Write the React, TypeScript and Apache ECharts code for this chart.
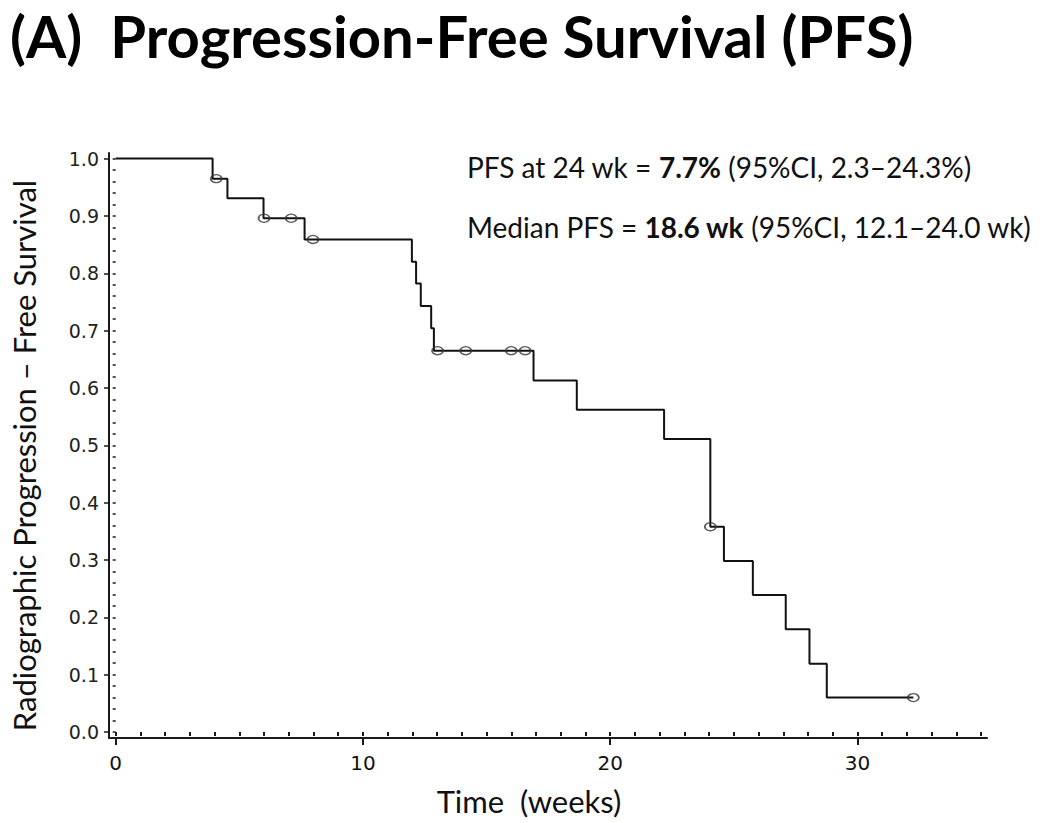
import React, { useEffect, useRef } from "react";
import * as echarts from "echarts";

// Kaplan–Meier step curve: time (weeks) at which each level begins, and the level
const eventTimes = [0, 3.92, 4.52, 5.98, 7.64, 11.98, 12.15, 12.34, 12.76, 12.87, 16.9, 18.65, 22.18, 24.05, 24.6, 25.77, 27.1, 28.06, 28.76, 32.26];
const survival = [1.0, 0.965, 0.931, 0.896, 0.859, 0.82, 0.782, 0.743, 0.704, 0.665, 0.613, 0.562, 0.511, 0.358, 0.298, 0.239, 0.179, 0.119, 0.06, 0.06];

// Censored observations
const censorTimes = [4.07, 6.0, 7.1, 7.98, 13.02, 14.16, 16.0, 16.56, 24.05, 32.26];
const censorSurv = [0.965, 0.896, 0.896, 0.859, 0.665, 0.665, 0.665, 0.665, 0.358, 0.06];

// Axis ticks
const xMajorTicks = [0, 10, 20, 30];
const xMinorTicks = [0, 1, 2, 3, 4, 5, 6, 7, 8, 9, 10, 11, 12, 13, 14, 15, 16, 17, 18, 19, 20, 21, 22, 23, 24, 25, 26, 27, 28, 29, 30, 31, 32, 33, 34, 35];
const yMajorTicks = [0, 0.1, 0.2, 0.3, 0.4, 0.5, 0.6, 0.7, 0.8, 0.9, 1.0];
const yMinorTicks = Array.from({ length: 51 }, (_, i) => Math.round(i * 2) / 100);

const titleText = "(A)  Progression-Free Survival (PFS)";
const xTitle = "Time  (weeks)";
const yTitle = "Radiographic Progression – Free Survival";
const note1 = "PFS at 24 wk = {b|7.7%} (95%CI, 2.3–24.3%)";
const note2 = "Median PFS = {b|18.6 wk} (95%CI, 12.1–24.0 wk)";

const X_MIN = -0.27;
const X_MAX = 35.24;
const Y_MIN = -0.0105;
const Y_MAX = 1.0098;

export default function App() {
  const ref = useRef<HTMLDivElement>(null);
  useEffect(() => {
    if (!ref.current) return;
    const chart = echarts.init(ref.current, null, { renderer: "svg" });
    const axisColor = "#1a1a1a";
    const textFont = "Lato";
    const noteStyle = {
      fontFamily: textFont,
      fontWeight: "normal",
      fontSize: 28,
      color: "#111",
      rich: { b: { fontFamily: textFont, fontWeight: "bold", fontSize: 28, color: "#111" } },
    };
    chart.setOption({
      animation: false,
      backgroundColor: "#ffffff",
      title: [
        {
          text: titleText,
          left: 10,
          top: 6,
          padding: 0,
          textStyle: { fontFamily: textFont, fontWeight: "bold", fontSize: 58, color: "#000" },
        },
        { text: note1, left: 462, top: 148, textStyle: noteStyle },
        { text: note2, left: 462, top: 208, textStyle: noteStyle },
      ],
      grid: { left: 109, right: 63, top: 153, bottom: 85, containLabel: false },
      xAxis: [
        {
          type: "value",
          min: X_MIN,
          max: X_MAX,
          position: "bottom",
          splitLine: { show: false },
          axisLine: { show: true, onZero: false, lineStyle: { color: axisColor, width: 2 } },
          axisTick: { show: true, customValues: xMajorTicks, length: 7, lineStyle: { color: axisColor, width: 2 } },
          axisLabel: {
            customValues: xMajorTicks,
            margin: 15,
            fontFamily: "DejaVu Sans",
            fontSize: 20,
            color: "#111",
          },
          name: xTitle,
          nameLocation: "middle",
          nameGap: 47,
          nameTextStyle: { fontFamily: textFont, fontSize: 31, color: "#111", padding: [0, 38, 0, 0] },
        },
        {
          type: "value",
          min: X_MIN,
          max: X_MAX,
          position: "bottom",
          offset: 0,
          splitLine: { show: false },
          axisLine: { show: false },
          axisTick: { show: true, customValues: xMinorTicks, length: 4, lineStyle: { color: axisColor, width: 2 } },
          axisLabel: { show: false },
        },
      ],
      yAxis: [
        {
          type: "value",
          min: Y_MIN,
          max: Y_MAX,
          position: "left",
          splitLine: { show: false },
          axisLine: { show: true, onZero: false, lineStyle: { color: axisColor, width: 2 } },
          axisTick: { show: true, customValues: yMajorTicks, length: 5, lineStyle: { color: axisColor, width: 1.5 } },
          axisLabel: {
            customValues: yMajorTicks,
            formatter: (v: number) => v.toFixed(1),
            margin: 10,
            fontFamily: "DejaVu Sans",
            fontSize: 19,
            color: "#222",
          },
          name: yTitle,
          nameLocation: "middle",
          nameRotate: 90,
          nameGap: 70,
          nameTextStyle: { fontFamily: textFont, fontSize: 31, color: "#111", padding: [0, 20, 0, 0] },
        },
        {
          type: "value",
          min: Y_MIN,
          max: Y_MAX,
          position: "left",
          offset: 0,
          splitLine: { show: false },
          axisLine: { show: false },
          axisTick: { show: true, customValues: yMinorTicks, length: 3, lineStyle: { color: axisColor, width: 1.5 } },
          axisLabel: { show: false },
        },
      ],
      series: [
        {
          type: "line",
          name: "PFS",
          step: "end",
          xAxisIndex: 0,
          yAxisIndex: 0,
          symbol: "none",
          lineStyle: { color: "#111", width: 2 },
          data: eventTimes.map((t, i) => [t, survival[i]]),
          z: 2,
        },
        {
          type: "scatter",
          name: "Censored",
          xAxisIndex: 0,
          yAxisIndex: 0,
          symbol: "circle",
          symbolSize: [11, 8],
          itemStyle: { color: "rgba(0,0,0,0)", borderColor: "#333", borderWidth: 1.5 },
          data: censorTimes.map((t, i) => [t, censorSurv[i]]),
          z: 3,
        },
      ],
    });
    return () => chart.dispose();
  }, []);
  return <div ref={ref} style={{ position: "fixed", left: 0, top: 0, width: 1050, height: 823 }} />;
}
